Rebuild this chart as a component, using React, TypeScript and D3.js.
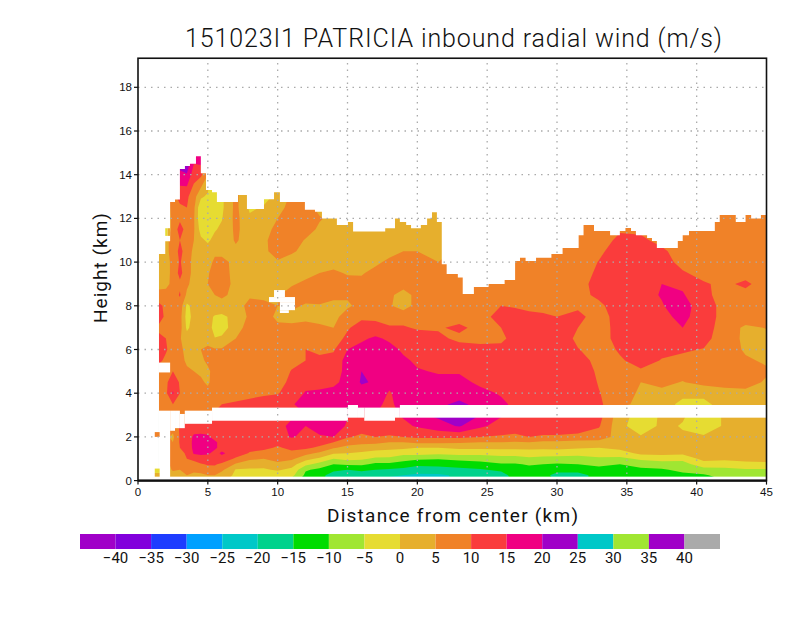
import React from "react";
import * as d3 from "d3";

const titleText = "151023I1 PATRICIA inbound radial wind (m/s)";
const xTitle = "Distance from center (km)";
const yTitle = "Height (km)";
const xTicks = [0, 5, 10, 15, 20, 25, 30, 35, 40, 45];
const yTicks = [0, 2, 4, 6, 8, 10, 12, 14, 16, 18];
const legendLabels = [-40, -35, -30, -25, -20, -15, -10, -5, 0, 5, 10, 15, 20, 25, 30, 35, 40];
const bandColors = [
  "#a000c8", "#8200dc", "#1e3cff", "#00a0ff", "#00c8c8", "#00d28c", "#00dc00", "#a0e632", "#e6dc32",
  "#e6af2d", "#f08228", "#fa3c3c", "#f00082", "#a000c8", "#00c8c8", "#a0e632", "#a000c8", "#aaaaaa",
];

const distances = [1.5, 2, 2.5, 3, 3.5, 4, 4.5, 5, 5.5, 6, 7, 8, 9, 10, 11, 12, 13, 14, 15, 16, 17, 18, 19, 20,
  21.5, 23, 24.5, 26, 27, 28, 29, 30, 31.5, 33, 34.5, 36, 37.5, 39, 40.5, 42, 43.5, 45];
const heights = [0, 0.25, 0.5, 0.75, 1, 1.25, 1.5, 1.75, 2, 2.5, 3, 3.5, 4, 4.5, 5, 5.5, 6, 6.5, 7, 7.5, 8, 8.5, 9,
  9.5, 10, 10.5, 11, 11.5, 12, 12.5, 13, 14, 15];

// radial wind per distance column, bottom to top
const windColumns = [
  [3,3,3,4,5,6,6,6,6,7,7, 7,8,8,8, 11,12,11,9, 12,11,7,3, 3,3,3,3, 3,3,3,3, 3,3],
  [3,3,3,4,5,6,6,6,6,7,7, 7,9,9,8, 9,10.5,10,8, 9,9,7,3.5, 3,3,4,4, 2,2,2,2, 2,2],
  [3,3.5,5.5,6,6.5,7,6,5,4,7,9, 10,15.5,13,10, 8,8,7.5,7, 6,7,7,6.5, 6.5,6.5,6.5,6.5, 6.5,6.5,7,8, 8,8],
  [2.5,3.5,5,6.5,8,9,10,10.5,10.5,10.5,9, 8,10,9.5,8, 7,6.5,5.5,7, 7,8,10.5,9, 11.5,10.5,11.5,10, 12,9,9,12, 18,28],
  [3,5,7,8,10,10.5,11,11.5,11.5,10.5,8, 7,7,7,6, 4,3,2,-1, -2,-1,4,6, 7,7,7.5,7.5, 8,9,10,11, 19.5,28],
  [2.5,4,6,8.5,11,15.5,16.5,16.5,16,12,9, 7,6.5,6,5, 3.5,3,2.5,2, 1.5,1.5,2.5,3, 3.5,3.5,4,5, 5.5,5.5,6,7, 12,18],
  [2,4,7,9.5,13,16,17,17.5,16,12.5,10, 8,7,5.5,4.5, 4.5,5,3,0, 2,3,3,3.5, 3.5,3.5,3,1, -2,-4,-4,1, 11,20],
  [2,5,8,10.5,13,15.5,17,17,15.5,13,10, 8,6,4.5,4.5, 5.5,5.5,4,2.5, 1.5,2.5,4.5,5, 4.5,3,2,-0.8, -2,-3,-3,-1, 5,5],
  [1.5,5,8.5,10.5,12,14,15.5,15.5,14,12,10.5, 9,7,6.5,6, 6,5.5,0.2,-2, -0.5,3,5,7, 7,6,4,1.5, -0.5,-2,-3,-5, -5,-5],
  [1,3,6,9,14,15.5,14,14,13.5,12,11, 10,8,7,7, 7,5.5,1,-2.5, -1,3,6,7.5, 7.5,7,3,2, 1,-0.3,-1,-1, -1,-1],
  [-2,-1,-0.3,4.5,9,13.5,13.5,13.5,13,12,11, 10.5,8.5,7.5,7, 7,7,5,3, 1.5,3.5,3.5,3.5, 3,3,4,5.5, 6,6.5,6.5,6.5, 6,6],
  [-2,-1.5,-0.5,2,6,9.5,11.5,12,12,12,11.5, 11,9,8,7.5, 7,7,7,7, 6,6,4.5,3.5, 3,3,3,3, 2.5,1,-1,-1, -1,-1],
  [-2,-2,-0.5,1.5,5,8.5,11,12,12.5,12.5,12, 11.5,9.5,8,7.5, 7,7,7,7, 7,6,4,3, 3,4,4,4, 3,2,0.5,-2, -2,-2],
  [-4.5,-2,0.5,4,6.5,8.5,9.5,11,12.5,13,12.5, 12,9.8,8.5,8, 7.5,7.5,7,6, 4,5,4.5,4, 3,4.5,7,7.5, 6.5,5,3,1.5, 1,1],
  [-7,-3.5,-1,2,6,9,11,12.5,15.5,16.5,14, 14.5,11.5,11,10.2, 9,8,7.5,6, 3.5,6,7,4.5, 3.5,3.5,5.5,8, 8.5,8,7,6, 6,6],
  [-13,-11,-9.5,-3.5,1.5,6.5,11,12.5,13.5,15,15, 17,15.5,13,11.5, 10,10,8,7, 3.5,4.5,7,6, 3.5,3.5,4,4.5, 7.5,7,7,7, 7,7],
  [-14,-13.5,-11,-7,-1,4,9,12,14.5,17,17, 18,16.5,12,10.5, 11,9,7.5,6, 3,4.5,8,7, 5,3,3,3, 4,5.5,3.5,3.5, 3.5,3.5],
  [-17,-17,-14,-10,-5,0.5,5.5,10,15,19.5,18, 17.5,16.5,14,12, 11.5,9.5,8,5, 3,3.5,6.5,7.5, 6,3,3,3, 3.5,3.5,3.5,3.5, 3.5,3.5],
  [-17,-17,-15,-9,-3.5,0,3.5,7,10.5,14,15.5, 17,16,16.5,17, 17,15,11,9.5, 8,4,6,7, 4.5,3.5,3.5,3.5, 3.5,3.5,3.5,3.5, 3.5,3.5],
  [-17,-17.5,-14,-9,-4,-1,3,6,9,12.5,14, 16,18,20.5,20, 18,17,14,12, 9,7,7,6.5, 4.5,3.5,3.5,3.5, 3.5,3.5,3.5,3.5, 3.5,3.5],
  [-20.5,-19,-15,-11,-6,-2,2,6,10,13,15, 16,18,19.5,19, 19,18.5,16,11.5, 9,7,7,7, 6.5,4,3.5,3.5, 3.5,3.5,3.5,3.5, 3.5,3.5],
  [-21,-19.5,-15.5,-11,-6,-2.5,1.5,5,9.5,13,14, 14,14.5,16.5,18, 18,17,14,10.5, 8,5.5,6,7, 8,6,3.5,3, 3,3,3,3, 3,3],
  [-21,-20,-16,-12.5,-8,-3.5,1,5,10,14,15.5, 17,17.5,17.5,17.5, 16,14,13,10.5, 8,3,3,7, 8.5,8,5,3.5, 3,3,3,3, 3,3],
  [-22,-21,-17,-14,-9,-3,0,6,11,15.5,19, 18.5,18,17,15.5, 14,13,12,9.5, 8,6.5,6.5,7, 8,8.5,5,3.5, 3,3,3,3, 3,3],
  [-22,-21,-16.5,-14,-9.5,-4,0,6,11,18,21, 19,18,16.5,14.5, 13,12,11,9.5, 7.5,7,7,7, 7,5,3,3, 3,3,3,3, 3,3],
  [-19,-19,-16,-13,-8.5,-3.5,1,5.5,11,20.5,22, 21,18,16.5,14.5, 13,12,9,11, 8,7,6,6.5, 6,6,6,6, 6,6,6,6, 6,6],
  [-18,-18,-15.5,-12,-8,-3.5,1,5,10,16,20, 18.5,16.5,14,13, 12.5,11,9,8.5, 8,7.5,6.5,6.5, 6.5,6.5,6.5,6.5, 6.5,6.5,6.5,6.5, 6.5,6.5],
  [-17,-17,-14,-10.5,-7,-3,1,5,9.5,13,15.5, 16,14.5,13,12.5, 12.5,12,8.5,10, 12,10,7.5,7, 7,7,7,7, 7,7,7,7, 7,7],
  [-14,-13,-12,-10.5,-7,-3,1,4.5,9,12.5,13.5, 14,13.5,13,13, 13,13,12.5,12.5, 12,9.5,8,7.5, 7,7,7,7, 7,7,7,7, 7,7],
  [-11,-11,-11.5,-9.5,-6,-2.5,1,5,10,12.5,13, 13,13,13,13, 13,13,13,12.5, 11,9,8,7.5, 7,7,7,7, 7,7,7,7, 7,7],
  [-10,-14,-12.5,-10,-6.5,-3,1,4,9.5,12.5,13, 13,13,13,13, 13,13,13,12, 10.5,9,8,7.5, 7,7,7,7, 7,7,7,7, 7,7],
  [-16,-16,-14,-10.5,-7,-2.5,1,4,9.5,12.5,13.5, 13,13,13,13, 13,13,13,12, 10,9,8,8, 7.5,7,7,7, 7,7,7,7, 7,7],
  [-17,-17,-13,-10,-7.5,-3,0.5,3.5,8,14.5,14, 13,13.5,15,13.5, 12,10.2,9,10, 11.5,9,8.5,8, 7.5,7,7,7, 7,7,7,7, 7,7],
  [-13,-13,-11.5,-9,-6,-2.5,0,3.5,7.5,10.5,12, 11,10.3,9.5,9, 8.5,8,7.5,7, 7.5,9,11,12, 11,10.2,9,8, 7.5,7,7,7, 7,7],
  [-12,-12.5,-11.5,-10,-6.5,-2,1,2,3,1.5,2, 6,6.5,7.5,8.5, 9.5,10.5,12,12.5, 12.5,12.5,13,13, 13,13,12.5,11, 9.5,8,8,8, 8,8],
  [-12,-12,-11,-8,-4,1,2,2,0.5,-3,-2, 4,4.5,5,9.5, 11.5,13,13.5,13.5, 13.5,14,14,13.5, 13,13,12,11, 9,8,8,8, 8,8],
  [-11.5,-11.5,-10.5,-7.5,-3,1.5,2.5,2.5,2,1,0.5, 2.5,4,6,8, 9.8,11,12.5,13, 14,14.8,15.2,15, 13,12,11,8.5, 7,7,7,7, 7,7],
  [-11,-11,-9,-7,-3.5,1,2.5,2,0.5,-0.3,0.5, -1.5,1.5,4.8,6.5, 9,10.5,13,15, 16,16.5,15.5,14, 10.5,8.5,7.5,7, 7,7,7,7, 7,7],
  [-10.5,-10.5,-7,-2,1.5,3,3.5,3,0.5,-2.5,-2.5, -1.5,1.5,6.5,7.5, 8,9.8,11.5,12, 13,13,11,10.5, 8.5,7,7,7, 7,7,7,7, 7,7],
  [-10,-8.5,-6.5,-2.5,1,2.5,3,3,2.5,0.5,0.5, 2.5,4,6,7, 7.5,7,7.5,8, 8,8,8.5,9, 8,7,7,7, 7,7,7,7, 7,7],
  [-6,-7,-5.5,-1.5,1.5,2.5,3,3,3,2,0, 3,4,6.5,7, 5.5,4.5,4,4, 8,8,8.5,11, 8,7,7,7, 7,7,7,7, 7,7],
  [-7,-7,-5.5,-1,1.5,2.5,3,3,2.5,2,1, 3,3.5,4.5,5.5, 4.5,3.5,3.5,5.2, 7,7.5,7.5,7.5, 7.5,7,7,7, 7,7,7,7, 7,7],
];

// top of the sampled data: each step ends at a distance, with its height
const topStepEnds = [1.95, 2.3, 2.65, 3, 3.36, 3.72, 4.15, 4.5, 4.87, 5.3, 5.65, 7.16, 7.8, 9.02, 9.74, 10.16, 11.95, 12.67, 13.17,
  14.24, 15.03, 15.4, 17.7, 18.4, 18.75, 19.2, 19.55, 20.25, 20.7, 21.05, 21.4, 21.75, 22.1, 22.9, 23.25, 24.05, 25.1, 26.25, 27,
  27.35, 27.75, 28.5, 29.6, 30.4, 31.55, 31.9, 32.65, 33.8, 34.5, 34.9, 35.3, 35.65, 36.45, 36.8, 37.15, 38.65, 39, 39.45, 41.3,
  41.65, 42.8, 43.5, 43.9, 44.6, 45];
const topStepHeights = [10.37, 10.95, 12.75, 12.87, 14.26, 14.4, 14.5, 14.85, 14.07, 13.3, 13.2, 12.75, 13.07, 12.43, 12.88, 13.2, 12.75, 12.4, 12.3,
  12, 11.7, 11.83, 11.4, 11.55, 12, 11.83, 11.7, 11.55, 11.7, 12, 12.28, 11.83, 9.9, 9.45, 9.3, 8.54, 8.86, 9, 9.18,
  10.05, 10.2, 10.05, 10.2, 10.37, 10.64, 11.23, 11.7, 11.42, 11.23, 11.42, 11.56, 11.42, 11.23, 11.1, 10.96, 10.64, 10.96, 11.23, 11.42,
  11.83, 12.15, 11.83, 12.15, 12, 12.15];

// unsampled cells: distance from, distance to, height from, height to
const missingCells = [
  [1, 1.5, 0, 16],
  [1.5, 45, 0, 0.18],
  [1.5, 2.3, 0, 3.2], [2.3, 2.65, 2.28, 3.2], [2.65, 3, 2.4, 3.2], [3, 3.35, 2.4, 3.05], [3.35, 5.3, 2.6, 3.2],
  [5.3, 15.03, 2.74, 3.34], [15.03, 15.75, 2.88, 3.46], [15.75, 16.2, 2.88, 3.34], [16.2, 18.4, 2.74, 3.34],
  [18.4, 18.75, 2.88, 3.34], [18.75, 45, 2.88, 3.46],
  [1.5, 2.3, 4.95, 5.4],
  [9.74, 10.52, 8.4, 8.72], [9.38, 11.24, 8.17, 8.4], [10.16, 11.24, 7.8, 8.17], [10.16, 10.8, 7.67, 7.8],
];

// lone samples away from the main field: distance from, to, height from, to, wind
const loneCells = [
  [1.2, 1.55, 0.18, 0.35, 3], [1.2, 1.55, 0.35, 0.55, -2], [1.2, 1.55, 2, 2.22, 7],
  [1.95, 2.12, 11.2, 11.55, -2], [2.12, 2.3, 11.2, 11.55, 3],
];

const W = 800, H = 618;
const x = d3.scaleLinear().domain([0, 45]).range([138, 766.5]);
const y = d3.scaleLinear().domain([0, 18]).range([480.6, 87.3]);
const yTop = 19.33;
const colorOf = d3.scaleThreshold<number, string>().domain(legendLabels).range(bandColors);
const legendX = d3.scaleLinear().domain([0, bandColors.length]).range([80, 720]);

const nx = distances.length, nz = heights.length;
const flat: number[] = [];
for (let j = 0; j < nz; j++) for (let i = 0; i < nx; i++) flat.push(windColumns[i][j]);
const gridX = d3.scaleLinear().domain(distances.map((_, i) => i + 0.5)).range(distances.map((d) => x(d))).clamp(true);
const gridY = d3.scaleLinear().domain(heights.map((_, i) => i + 0.5)).range(heights.map((d) => y(d))).clamp(true);
const path = d3.geoPath(d3.geoTransform({
  point(px: number, py: number) { (this as any).stream.point(gridX(px), gridY(py)); },
}));
const contours = d3.contours().size([nx, nz]).thresholds(legendLabels)(flat);

// white sky above the stepped data top
const skyPoints: [number, number][] = [[x(1), y(16)], [x(1), y(topStepHeights[0])]];
topStepEnds.forEach((end, i) => {
  skyPoints.push([i === 0 ? x(1) : x(topStepEnds[i - 1]), y(topStepHeights[i])]);
  skyPoints.push([x(end), y(topStepHeights[i])]);
});
skyPoints.push([x(45) + 1, y(topStepHeights[topStepHeights.length - 1])], [x(45) + 1, y(16)]);
const skyPath = d3.line()(skyPoints) + "Z";

const font = "Roboto, 'Liberation Sans', Arial, sans-serif";
const tickFont = "'Liberation Sans', Arial, sans-serif";
const gridStyle = { stroke: "#aaaaaa", strokeWidth: 1.3, strokeDasharray: "1.5 5" };

export default function App() {
  return (
    <svg width={W} height={H} viewBox={`0 0 ${W} ${H}`} style={{ position: "absolute", left: 0, top: 0, background: "#fff" }}>
      <rect x={x(1.5)} y={y(15)} width={x(45) - x(1.5)} height={y(0) - y(15)} fill={bandColors[0]} />
      {contours.map((c, i) => (
        <path key={i} d={path(c as any) || ""} fill={bandColors[i + 1]} />
      ))}
      <path d={skyPath} fill="#fff" />
      {missingCells.map(([a, b, lo, hi], i) => (
        <rect key={i} x={x(a)} width={x(b) - x(a)} y={y(hi)} height={y(lo) - y(hi)} fill="#fff" />
      ))}
      {loneCells.map(([a, b, lo, hi, v], i) => (
        <rect key={i} x={x(a)} width={x(b) - x(a)} y={y(hi)} height={y(lo) - y(hi)} fill={colorOf(v)} />
      ))}
      {xTicks.slice(1, -1).map((t) => (
        <line key={t} x1={x(t)} x2={x(t)} y1={y(0)} y2={y(yTop)} style={gridStyle} />
      ))}
      {yTicks.slice(1).map((t) => (
        <line key={t} x1={x(0)} x2={x(45)} y1={y(t)} y2={y(t)} style={gridStyle} />
      ))}
      <rect x={x(0)} y={y(yTop)} width={x(45) - x(0)} height={y(0) - y(yTop)} fill="none" stroke="#111" strokeWidth={1.6} />
      <line x1={x(0)} x2={x(45)} y1={y(0)} y2={y(0)} stroke="#111" strokeWidth={2.2} />
      {xTicks.map((t) => (
        <g key={t}>
          <line x1={x(t)} x2={x(t)} y1={y(0)} y2={y(0) + 4} stroke="#111" strokeWidth={1.2} />
          <text x={x(t)} y={y(0) + 15} textAnchor="middle" fontFamily={tickFont} fontSize={11.5} fill="#111">{t}</text>
        </g>
      ))}
      {yTicks.map((t) => (
        <g key={t}>
          <line x1={x(0) - 4} x2={x(0)} y1={y(t)} y2={y(t)} stroke="#111" strokeWidth={1.2} />
          <text x={x(0) - 6} y={y(t) + 4} textAnchor="end" fontFamily={tickFont} fontSize={11.5} fill="#111">{t}</text>
        </g>
      ))}
      <text x={453.5} y={47} textAnchor="middle" fontFamily={font} fontWeight={300} fontSize={25} fill="#111" textLength={537} lengthAdjust="spacing">{titleText}</text>
      <text x={452.5} y={522} textAnchor="middle" fontFamily={font} fontWeight={400} fontSize={19} fill="#111" textLength={251} lengthAdjust="spacing">{xTitle}</text>
      <text transform="translate(107,268) rotate(-90)" textAnchor="middle" fontFamily={font} fontWeight={400} fontSize={19} fill="#111" textLength={110} lengthAdjust="spacing">{yTitle}</text>
      {bandColors.map((c, i) => (
        <rect key={i} x={legendX(i)} y={534} width={legendX(i + 1) - legendX(i)} height={15} fill={c} />
      ))}
      {legendLabels.map((v, i) => (
        <text key={v} x={legendX(i + 1)} y={563} textAnchor="middle" fontFamily={font} fontSize={15} fill="#111">
          {d3.format("d")(v)}
        </text>
      ))}
    </svg>
  );
}
